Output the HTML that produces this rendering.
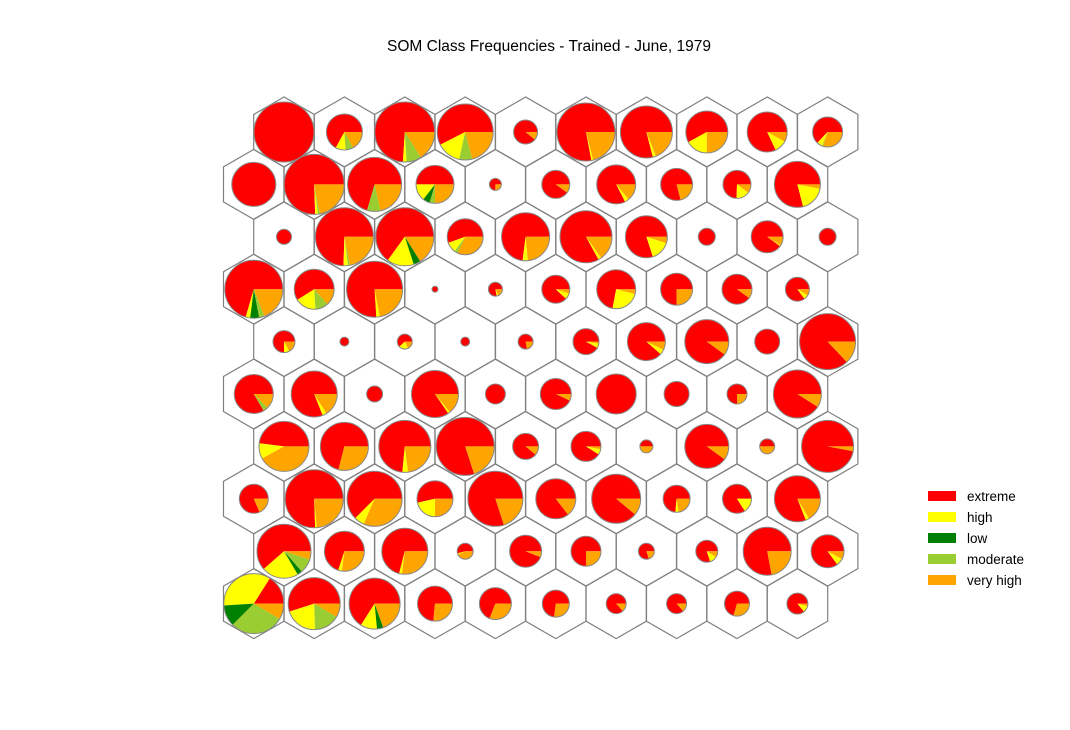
<!DOCTYPE html>
<html><head><meta charset="utf-8"><style>
body{margin:0;background:#fff;}
svg{display:block;font-family:"Liberation Sans",sans-serif;}
</style></head><body>
<svg id="chart" width="1070" height="730" viewBox="0 0 1070 730">
<text x="549" y="51" text-anchor="middle" font-size="15.5" fill="#000">SOM Class Frequencies - Trained - June, 1979</text>
<g id="hexes"></g>
<g id="pies"></g>
<g id="legend"></g>
</svg>
<script>
const classes = ["extreme","high","low","moderate","very high"];
const colors = ["#ff0000","#ffff00","#008000","#9acd32","#ffa500"];
const sizes = [
[30,18,30,28,12,29,26,21,20,15],
[22,30,27,19,6,14,19.5,16,14,23],
[7.5,29,29,18,24,26,21,8.5,16,8.5],
[29,20,28,3,7,14,19.5,16,15,12],
[11,4.5,7.5,4.5,7.5,13,19,22,12.5,28],
[19.5,23,8,23.5,10,15.5,20,12.5,10,24],
[25,24,26,29,13,15,6.5,22,7.5,26],
[14.5,29,27.5,18,27.5,20,24.5,13.5,14.5,23],
[27,20,23,8,16,15,8,11,24,16.5],
[30,26,25.5,17.5,16,13.5,10,10,12.5,10.5]];
const extreme = [
[1,.67,.74,.575,.89,.78,.79,.58,.82,.63],
[1,.755,.705,.5,.75,.9,.825,.79,.745,.79],
[1,.745,.65,.555,.73,.83,.8,1,.9,1],
[.705,.59,.76,1,.78,.88,.72,.75,.9,.85],
[.75,1,.62,1,.78,.92,.885,.9,1,.87],
[.835,.81,1,.845,1,.93,1,1,.75,.91],
[.48,.71,.735,.8,.89,.91,.5,.9,.5,.97],
[.815,.755,.625,.535,.8,.855,.89,.735,.84,.81],
[.615,.7,.71,.545,.94,.75,.8,.8,.78,.85],
[.16,.55,.66,.735,.69,.73,.865,.865,.705,.86]];
const high = [
[0,.09,.02,.14,0,.01,.02,.17,.10,.06],
[0,.015,0,.145,0,0,.035,0,.155,.18],
[0,.025,.15,.095,.035,.02,.15,0,.01,0],
[.025,.17,.02,0,.04,.07,.24,0,0,.065],
[.08,0,.2,0,0,.055,.045,0,0,0],
[0,.03,0,.015,0,0,0,0,0,0],
[.10,0,.035,0,0,.06,0,0,0,0],
[0,.01,.06,.215,0,0,0,.04,.16,.025],
[.22,.03,.02,.025,0,0,0,.11,0,.07],
[.35,.205,.105,0,0,0,0,0,0,.1]];
const low = [
[0,0,0,0,0,0,0,0,0,0],
[0,0,0,.06,0,0,0,0,0,0],
[0,0,.04,0,0,0,0,0,0,0],
[.05,0,0,0,0,0,0,0,0,0],
[0,0,0,0,0,0,0,0,0,0],
[0,0,0,0,0,0,0,0,0,0],
[0,0,0,0,0,0,0,0,0,0],
[0,0,0,0,0,0,0,0,0,0],
[.03,0,0,0,0,0,0,0,0,0],
[.115,0,.04,0,0,0,0,0,0,0]];
const moderate = [
[0,.07,.08,.075,0,0,0,0,0,.01],
[0,.01,.08,.045,0,0,0,0,0,0],
[0,.01,0,.03,0,0,0,0,0,0],
[.03,.105,0,0,0,0,0,0,0,0],
[0,0,0,0,0,0,0,0,0,0],
[.04,0,0,0,0,0,0,0,0,0],
[0,0,0,0,0,0,0,0,0,0],
[0,0,0,0,0,0,0,0,0,0],
[.085,0,0,0,0,0,0,0,0,0],
[.29,.16,0,0,0,0,0,0,0,0]];
const veryHigh = [
[0,.17,.16,.21,.11,.21,.19,.25,.08,.30],
[0,.22,.215,.25,.25,.1,.14,.21,.1,.03],
[0,.22,.16,.32,.235,.15,.05,0,.09,0],
[.19,.135,.22,0,.18,.05,.04,.25,.1,.085],
[.17,0,.18,0,.22,.025,.07,.1,0,.13],
[.125,.16,0,.14,0,.07,0,0,.25,.09],
[.42,.29,.23,.2,.11,.03,.5,.1,.5,.03],
[.185,.235,.315,.25,.2,.145,.11,.225,0,.165],
[.05,.27,.27,.43,.06,.25,.2,.09,.22,.08],
[.085,.085,.195,.265,.31,.27,.135,.135,.295,.04]];

const NS="http://www.w3.org/2000/svg";
const X0=284, DX=60.4, Y0=132, DY=52.4, HEXR=35;
function cx(r,c){return X0+DX*c-(r%2?DX/2:0);}
function cy(r){return Y0+DY*r;}
const hexG=document.getElementById('hexes'), pieG=document.getElementById('pies'), legG=document.getElementById('legend');
for(let r=0;r<10;r++)for(let c=0;c<10;c++){
  const x=cx(r,c), y=cy(r);
  let pts=[];
  for(let k=0;k<6;k++){const a=(90+60*k)*Math.PI/180;pts.push((x+HEXR*Math.cos(a)).toFixed(2)+","+(y-HEXR*Math.sin(a)).toFixed(2));}
  const h=document.createElementNS(NS,'polygon');
  h.setAttribute('points',pts.join(' '));
  h.setAttribute('fill','none');h.setAttribute('stroke','#808080');h.setAttribute('stroke-width','1.2');
  
  
  hexG.appendChild(h);
}
for(let r=0;r<10;r++)for(let c=0;c<10;c++){
  const x=cx(r,c), y=cy(r), rad=sizes[r][c];
  const vals=[extreme[r][c],high[r][c],low[r][c],moderate[r][c],veryHigh[r][c]];
  const tot=vals.reduce((a,b)=>a+b,0);
  const g=document.createElementNS(NS,'g');
  
  
  let a0=0;
  vals.forEach((v,i)=>{
    if(v<=0)return;
    const f=v/tot;
    if(f>=0.9999){
      const ci=document.createElementNS(NS,'circle');
      ci.setAttribute('cx',x);ci.setAttribute('cy',y);ci.setAttribute('r',rad);ci.setAttribute('fill',colors[i]);
      
      
      g.appendChild(ci);a0+=2*Math.PI;return;
    }
    const a1=a0+f*2*Math.PI;
    const p=document.createElementNS(NS,'path');
    const x0=x+rad*Math.cos(a0), y0=y-rad*Math.sin(a0), x1=x+rad*Math.cos(a1), y1=y-rad*Math.sin(a1);
    p.setAttribute('d',`M${x},${y} L${x0},${y0} A${rad},${rad} 0 ${f>0.5?1:0} 0 ${x1},${y1} Z`);
    p.setAttribute('fill',colors[i]);
    
    
    g.appendChild(p);a0=a1;
  });
  const o=document.createElementNS(NS,'circle');
  o.setAttribute('cx',x);o.setAttribute('cy',y);o.setAttribute('r',rad);o.setAttribute('fill','none');o.setAttribute('stroke','#888');o.setAttribute('stroke-width','1');
  
  
  g.appendChild(o);
  pieG.appendChild(g);
}
classes.forEach((name,i)=>{
  const y=491+21*i;
  const rc=document.createElementNS(NS,'rect');
  rc.setAttribute('x',928);rc.setAttribute('y',y);rc.setAttribute('width',28);rc.setAttribute('height',10);rc.setAttribute('fill',colors[i]);
  
  
  legG.appendChild(rc);
  const t=document.createElementNS(NS,'text');
  t.setAttribute('x',967);t.setAttribute('y',y+10);t.setAttribute('font-size','13.5');t.textContent=name;
  
  
  legG.appendChild(t);
});
</script>
</body></html>
